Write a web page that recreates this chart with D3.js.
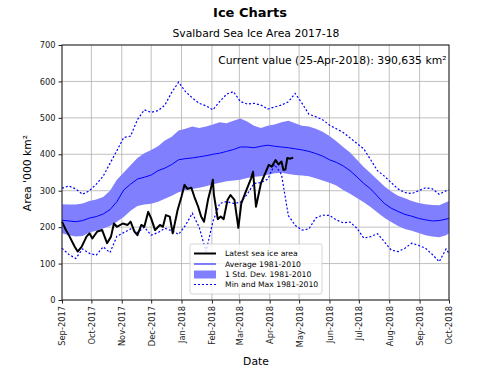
<!DOCTYPE html>
<html>
<head>
<meta charset="utf-8">
<script src="https://cdn.jsdelivr.net/npm/d3@7"></script>
<style>
  body { margin: 0; background: #fff; }
  text { font-family: "DejaVu Sans", sans-serif; }
</style>
</head>
<body>
<div id="chart"></div>
<script>
// climatology (1981-2010), weekly points
const climDates = [
  '2017-09-01','2017-09-08','2017-09-15','2017-09-22','2017-09-29',
  '2017-10-06','2017-10-13','2017-10-20','2017-10-27',
  '2017-11-03','2017-11-10','2017-11-17','2017-11-24',
  '2017-12-01','2017-12-08','2017-12-15','2017-12-22','2017-12-29',
  '2018-01-05','2018-01-12','2018-01-19','2018-01-26',
  '2018-02-02','2018-02-09','2018-02-16','2018-02-23',
  '2018-03-02','2018-03-09','2018-03-16','2018-03-23','2018-03-30',
  '2018-04-06','2018-04-13','2018-04-20','2018-04-27',
  '2018-05-04','2018-05-11','2018-05-18','2018-05-25',
  '2018-06-01','2018-06-08','2018-06-15','2018-06-22','2018-06-29',
  '2018-07-06','2018-07-13','2018-07-20','2018-07-27',
  '2018-08-03','2018-08-10','2018-08-17','2018-08-24','2018-08-31',
  '2018-09-07','2018-09-14','2018-09-21','2018-09-28','2018-10-01'
];
const avgArea = [
  219, 217, 215, 218, 225, 229, 236, 248, 270, 302, 318, 332, 337,
  343, 355, 362, 372, 385, 388, 390, 393, 396, 400, 403, 408, 413,
  420, 420, 418, 422, 425, 422, 420, 418, 415, 412, 408, 402, 395,
  385, 378, 368, 355, 338, 320, 305, 285, 265, 252, 243, 235, 230,
  224, 220, 217, 218, 222, 224
];
const stdUpper = [
  263, 262, 262, 265, 272, 276, 283, 300, 330, 350, 370, 390, 403,
  412, 422, 438, 448, 465, 470, 476, 472, 476, 482, 488, 485, 492,
  498, 490, 478, 472, 478, 482, 488, 492, 485, 478, 476, 470, 462,
  450, 436, 420, 405, 385, 365, 348, 330, 312, 298, 286, 279, 272,
  266, 263, 261, 260, 268, 272
];
const stdLower = [
  183, 178, 174, 176, 185, 190, 196, 203, 215, 228, 245, 258, 262,
  264, 270, 278, 286, 296, 302, 305, 308, 312, 318, 322, 326, 328,
  330, 335, 338, 340, 344, 348, 349, 346, 343, 342, 340, 334, 328,
  322, 314, 302, 292, 280, 268, 255, 240, 226, 214, 203, 195, 190,
  184, 178, 174, 172, 178, 183
];
const maxArea = [
  307, 313, 305, 290, 300, 318, 340, 375, 410, 446, 450, 495, 522,
  515, 520, 535, 570, 598, 572, 555, 540, 533, 522, 545, 565, 572,
  545, 538, 540, 535, 524, 530, 535, 544, 567, 540, 510, 503, 495,
  480, 470, 460, 445, 430, 415, 385, 355, 340, 322, 305, 295, 292,
  300, 308, 305, 290, 300, 302
];
const minArea = [
  142, 125, 114, 140, 128, 123, 146, 130, 175, 185, 195, 185, 200,
  178, 185, 197, 190, 180, 205, 238, 200, 133, 215, 265, 270, 265,
  268, 290, 320, 322, 332, 372, 345, 232, 205, 192, 195, 225, 233,
  232, 220, 212, 214, 197, 170, 174, 182, 160, 137, 133, 142, 156,
  150, 142, 125, 105, 140, 128
];

// latest season
const curDates = [
  '2017-09-01','2017-09-05','2017-09-08','2017-09-14','2017-09-17','2017-09-21',
  '2017-09-26','2017-09-29','2017-10-02','2017-10-07','2017-10-12','2017-10-17',
  '2017-10-21','2017-10-24','2017-10-27','2017-11-02','2017-11-07','2017-11-10',
  '2017-11-14','2017-11-17','2017-11-21','2017-11-24','2017-11-28','2017-12-01',
  '2017-12-05','2017-12-10','2017-12-13','2017-12-16','2017-12-20','2017-12-23',
  '2017-12-28','2018-01-01','2018-01-04','2018-01-07','2018-01-11','2018-01-14',
  '2018-01-18','2018-01-21','2018-01-24','2018-01-28','2018-01-31','2018-02-02',
  '2018-02-03','2018-02-07','2018-02-10','2018-02-13','2018-02-17','2018-02-20',
  '2018-02-24','2018-02-28','2018-03-03','2018-03-08','2018-03-13','2018-03-15',
  '2018-03-18','2018-03-23','2018-03-28','2018-03-31','2018-04-03','2018-04-07',
  '2018-04-10','2018-04-13','2018-04-15','2018-04-17','2018-04-19','2018-04-22',
  '2018-04-25'
];
const curArea = [
  215, 192, 178, 146, 133, 146,
  174, 183, 169, 188, 192, 156,
  174, 210, 201, 210, 206, 215,
  188, 178, 206, 201, 242, 224,
  192, 206, 201, 233, 229, 183,
  247, 284, 316, 305, 308, 284,
  256, 229, 215, 275, 307, 330,
  290, 222, 229, 222, 275, 288,
  275, 198, 265, 300, 334, 352,
  256, 320, 352, 371, 366, 384,
  372, 380, 357, 358, 390, 388,
  391
];

const yTicks = [0, 100, 200, 300, 400, 500, 600, 700];
const legendLabels = ['Latest sea ice area', 'Average 1981-2010', '1 Std. Dev. 1981-2010', 'Min and Max 1981-2010'];

const width = 500;
const height = 375;
const margin = {top: 45, right: 51, bottom: 75, left: 62};

const parse = d3.timeParse('%Y-%m-%d');
const clim = climDates.map((d, i) => ({
  date: parse(d), avg: avgArea[i], hi: stdUpper[i], lo: stdLower[i], max: maxArea[i], min: minArea[i]
}));
const cur = curDates.map((d, i) => ({date: parse(d), v: curArea[i]}));

const x = d3.scaleTime()
  .domain([parse('2017-09-01'), parse('2018-10-01')])
  .range([margin.left, width - margin.right]);
const y = d3.scaleLinear()
  .domain([0, 700])
  .range([height - margin.bottom, margin.top]);

const svg = d3.select('#chart').append('svg')
  .attr('width', width)
  .attr('height', height)
  .attr('viewBox', [0, 0, width, height]);

svg.append('rect').attr('width', width).attr('height', height).attr('fill', '#fff');

// grid
const months = x.ticks(d3.timeMonth.every(1));
svg.append('g')
  .selectAll('line')
  .data(months)
  .join('line')
    .attr('x1', d => x(d)).attr('x2', d => x(d))
    .attr('y1', y(0)).attr('y2', y(700))
    .attr('stroke', '#b0b0b0').attr('stroke-width', 0.8);
svg.append('g')
  .selectAll('line')
  .data(yTicks)
  .join('line')
    .attr('x1', x.range()[0]).attr('x2', x.range()[1])
    .attr('y1', d => y(d)).attr('y2', d => y(d))
    .attr('stroke', '#b0b0b0').attr('stroke-width', 0.8);

// std band
svg.append('path')
  .datum(clim)
  .attr('fill', '#8080ff')
  .attr('d', d3.area().x(d => x(d.date)).y0(d => y(d.lo)).y1(d => y(d.hi)));

// min / max
['max', 'min'].forEach(k => {
  svg.append('path')
    .datum(clim)
    .attr('fill', 'none')
    .attr('stroke', '#0000ff')
    .attr('stroke-width', 1.2)
    .attr('stroke-dasharray', '2,2')
    .attr('d', d3.line().x(d => x(d.date)).y(d => y(d[k])));
});

// average
svg.append('path')
  .datum(clim)
  .attr('fill', 'none')
  .attr('stroke', '#0000ff')
  .attr('stroke-width', 1)
  .attr('d', d3.line().x(d => x(d.date)).y(d => y(d.avg)));

// latest
svg.append('path')
  .datum(cur)
  .attr('fill', 'none')
  .attr('stroke', '#000')
  .attr('stroke-width', 2)
  .attr('stroke-linejoin', 'round')
  .attr('d', d3.line().x(d => x(d.date)).y(d => y(d.v)));

// frame
svg.append('rect')
  .attr('x', x.range()[0]).attr('y', y(700))
  .attr('width', x.range()[1] - x.range()[0])
  .attr('height', y(0) - y(700))
  .attr('fill', 'none')
  .attr('stroke', '#222')
  .attr('stroke-width', 1);

// axes
const xa = svg.append('g')
  .attr('transform', `translate(0,${y(0)})`)
  .call(d3.axisBottom(x).tickValues(months).tickFormat(d3.timeFormat('%b-%Y')).tickSize(3.5).tickSizeOuter(0))
  .call(g => g.select('.domain').remove())
  .call(g => g.selectAll('.tick line').attr('stroke', '#222'));
xa.selectAll('.tick text')
  .attr('transform', 'rotate(-90)')
  .attr('text-anchor', 'end')
  .attr('x', -6)
  .attr('y', 0)
  .attr('dy', '0.35em')
  .attr('fill', '#222')
  .style('font-size', '8.3px')
  .style('font-family', 'DejaVu Sans');

svg.append('g')
  .attr('transform', `translate(${x.range()[0]},0)`)
  .call(d3.axisLeft(y).tickValues(yTicks).tickSize(3.5).tickSizeOuter(0))
  .call(g => g.select('.domain').remove())
  .call(g => g.selectAll('.tick line').attr('stroke', '#222'))
  .call(g => g.selectAll('.tick text')
    .attr('fill', '#222')
    .style('font-size', '8.3px')
    .style('font-family', 'DejaVu Sans'));

// titles
svg.append('text')
  .attr('x', 250).attr('y', 17.3)
  .attr('text-anchor', 'middle')
  .style('font-size', '13px').style('font-weight', 'bold')
  .text('Ice Charts');
svg.append('text')
  .attr('x', 256).attr('y', 36.7)
  .attr('text-anchor', 'middle')
  .style('font-size', '10.8px')
  .text('Svalbard Sea Ice Area 2017-18');
svg.append('text')
  .attr('x', 446.5).attr('y', 64)
  .attr('text-anchor', 'end')
  .style('font-size', '10.8px')
  .text('Current value (25-Apr-2018): 390,635 km²');
svg.append('text')
  .attr('x', 256).attr('y', 365)
  .attr('text-anchor', 'middle')
  .style('font-size', '10.8px')
  .text('Date');
svg.append('text')
  .attr('transform', `translate(31,173) rotate(-90)`)
  .attr('text-anchor', 'middle')
  .style('font-size', '10.8px')
  .text("Area '000 km²");

// legend
const lg = svg.append('g').attr('transform', 'translate(190,244)');
lg.append('rect')
  .attr('width', 132).attr('height', 50)
  .attr('rx', 2)
  .attr('fill', '#fff').attr('fill-opacity', 0.8)
  .attr('stroke', '#ccc').attr('stroke-width', 0.8);
const rowY = [9.5, 20, 30.5, 40.5];
lg.append('line').attr('x1', 4).attr('x2', 26).attr('y1', rowY[0]).attr('y2', rowY[0])
  .attr('stroke', '#000').attr('stroke-width', 2);
lg.append('line').attr('x1', 4).attr('x2', 26).attr('y1', rowY[1]).attr('y2', rowY[1])
  .attr('stroke', '#0000ff').attr('stroke-width', 1);
lg.append('rect').attr('x', 4).attr('y', rowY[2] - 4).attr('width', 22).attr('height', 8)
  .attr('fill', '#8080ff');
lg.append('line').attr('x1', 4).attr('x2', 26).attr('y1', rowY[3]).attr('y2', rowY[3])
  .attr('stroke', '#0000ff').attr('stroke-width', 1.2).attr('stroke-dasharray', '2,2');
lg.selectAll('text.lbl')
  .data(legendLabels)
  .join('text')
    .attr('class', 'lbl')
    .attr('x', 35)
    .attr('y', (d, i) => rowY[i])
    .attr('dy', '0.35em')
    .style('font-size', '7.7px')
    .text(d => d);
</script>
</body>
</html>
